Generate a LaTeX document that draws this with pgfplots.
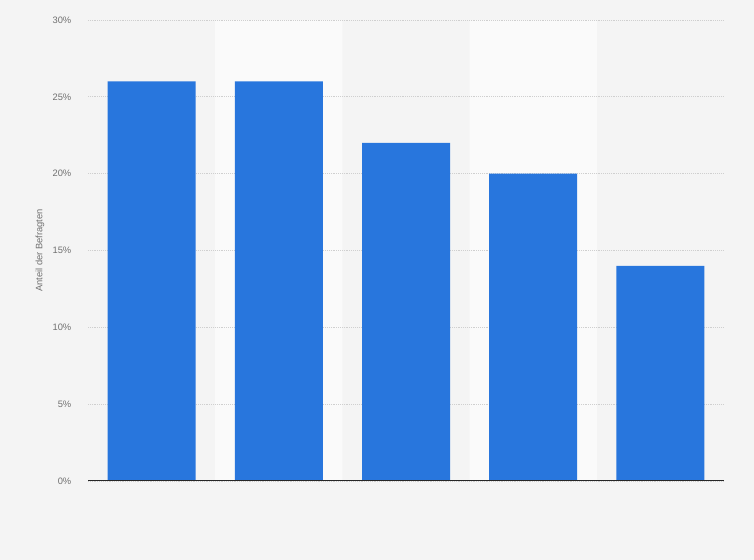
\documentclass[border=0pt]{standalone}
\usepackage{pgfplots}
\pgfplotsset{compat=1.18}
\usepackage{fontspec}
\setmainfont{Liberation Sans}
\definecolor{bgcol}{HTML}{F4F4F4}
\definecolor{bandcol}{HTML}{FAFAFA}
\definecolor{barcol}{HTML}{2876DD}
\definecolor{txtcol}{HTML}{707070}
\definecolor{gridcol}{HTML}{CFCFCF}
\pgfplotsset{
  chartbox/.style={
    at={(88*0.75pt,79*0.75pt)}, anchor=south west,
    scale only axis,
    width=636*0.75pt, height=461*0.75pt,
    xmin=0.5, xmax=5.5, ymin=0, ymax=30,
  }
}
\begin{document}
\begin{tikzpicture}[x=0.75pt,y=0.75pt]
\fill[bgcol] (0,0) rectangle (754,560);
\useasboundingbox (0,0) rectangle (754,560);
% alternating column bands
\begin{axis}[chartbox, hide axis]
\addplot[ybar interval, fill=bandcol, draw=none]
    coordinates {(1.5,30) (2.5,0) (3.5,30) (4.5,30)};
\end{axis}
\begin{axis}[
    chartbox,
    ytick={0,5,...,30},
    yticklabel={\pgfmathprintnumber{\tick}\%},
    xtick=\empty,
    axis x line*=bottom, axis y line*=left,
    x axis line style={draw=none},
    y axis line style={draw=none},
    ymajorgrids,
    grid style={gridcol, densely dotted, line width=0.5pt},
    major tick length=0pt,
    tick label style={font=\fontsize{7}{8}\selectfont, text=txtcol},
    /pgf/number format/assume math mode=true,
    yticklabel style={xshift=-9pt},
    ylabel={Anteil der Befragten},
    ylabel style={font=\fontsize{7}{8}\selectfont, text=txtcol,
        at={(axis description cs:-0.0755,0.5)}, anchor=center},
]
\addplot[ybar, bar width=88*0.75pt, fill=barcol, draw=none]
    coordinates {(1,26) (2,26) (3,22) (4,20) (5,14)};
% baseline
\addplot[black!85, line width=0.8pt] coordinates {(0.5,0) (5.5,0)};
\end{axis}
\end{tikzpicture}
\end{document}
